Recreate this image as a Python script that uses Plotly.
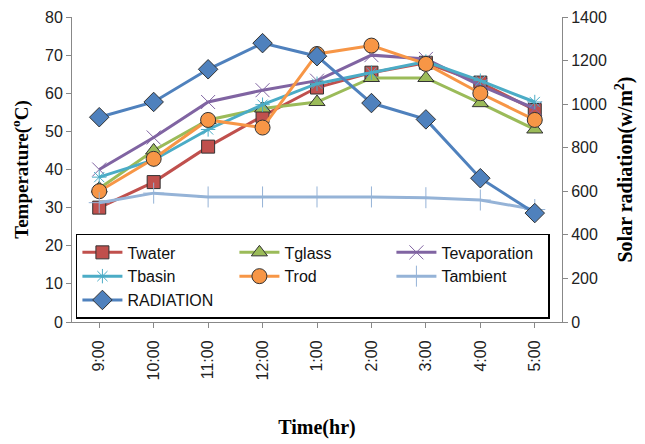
import plotly.graph_objects as go

times = ["9:00", "10:00", "11:00", "12:00", "1:00", "2:00", "3:00", "4:00", "5:00"]
twater = [30, 36.7, 46, 54, 61.5, 65.4, 68, 62.8, 55.6]
tglass = [35, 45, 53, 56, 57.7, 64, 64, 57.4, 50.5]
tevap = [40, 48.4, 57.7, 60.8, 63.3, 70, 69, 62, 56]
tbasin = [38, 42.5, 50.5, 57, 62.5, 65.4, 68.3, 63.3, 57.7]
trod = [34.3, 42.8, 53, 51, 70.3, 72.5, 67.7, 60, 53]
tambient = [31.3, 33.8, 32.8, 32.8, 32.8, 32.8, 32.6, 32, 29.5]
radiation = [940, 1010, 1160, 1280, 1220, 1005, 930, 660, 500]

fig = go.Figure()

def add(name, y, color, symbol, size, lcol="#333333", lw=1, yaxis="y"):
    fig.add_trace(go.Scatter(
        x=times, y=y, name=name, mode="lines+markers", yaxis=yaxis,
        line=dict(color=color, width=3),
        marker=dict(symbol=symbol, size=size, color=color,
                    line=dict(color=lcol, width=lw)),
    ))

add("Twater", twater, "#C0504D", "square", 13)
add("Tglass", tglass, "#9BBB59", "triangle-up", 14)
add("Tevaporation", tevap, "#8064A2", "x-thin-open", 14, lcol="#222222", lw=1)
add("Tbasin", tbasin, "#4BACC6", "asterisk-open", 12, lcol="#222222", lw=1)
add("Trod", trod, "#F79646", "circle", 15)
add("Tambient", tambient, "#95B3D7", "cross-thin-open", 15, lcol="#222222", lw=1)
add("RADIATION", radiation, "#4F81BD", "diamond", 15, yaxis="y2")

tickfont = dict(family="Liberation Sans", size=16, color="#222222")

fig.update_layout(
    width=637, height=436,
    margin=dict(l=64, r=83, t=9, b=122, autoexpand=False),
    plot_bgcolor="white", paper_bgcolor="white",
    showlegend=True,
    legend=dict(
        orientation="h", x=0.008, y=0.01, xanchor="left", yanchor="bottom",
        bordercolor="#000000", borderwidth=1.5, bgcolor="white",
        entrywidth=102, entrywidthmode="pixels",
        font=dict(family="Liberation Sans", size=16, color="#111111"),
        tracegroupgap=0, itemwidth=40,
    ),
    xaxis=dict(
        type="category", range=[-0.5, 8.5], tickangle=-90, automargin=False,
        showline=True, linecolor="#888888", linewidth=1,
        ticks="outside", ticklen=5, tickcolor="#888888", ticklabelstandoff=6,
        showgrid=False, tickfont=dict(family="Liberation Sans", size=16, color="#222222"),
        title=dict(text="Time(hr)", font=dict(family="Liberation Serif", size=20, color="#000000", weight="bold"), standoff=40),
    ),
    yaxis=dict(
        range=[0, 80], dtick=10, showgrid=False, zeroline=False, automargin=False,
        showline=True, linecolor="#888888", linewidth=1, ticklabeloverflow="allow",
        ticks="outside", ticklen=5, tickcolor="#888888",
        tickfont=tickfont,
        title=dict(text="Temperature(<sup>o</sup>C)",
                   font=dict(family="Liberation Serif", size=19, color="#000000", weight="bold"), standoff=24),
    ),
    yaxis2=dict(
        range=[0, 1400], dtick=200, overlaying="y", side="right", automargin=False,
        showgrid=False, zeroline=False, ticklabeloverflow="allow",
        showline=True, linecolor="#888888", linewidth=1,
        ticks="outside", ticklen=5, tickcolor="#888888",
        tickfont=tickfont,
        title=dict(text="Solar radiation(w/m<sup>2</sup>)",
                   font=dict(family="Liberation Serif", size=20, color="#000000", weight="bold"), standoff=12),
    ),
)

fig.write_html("out.html")
